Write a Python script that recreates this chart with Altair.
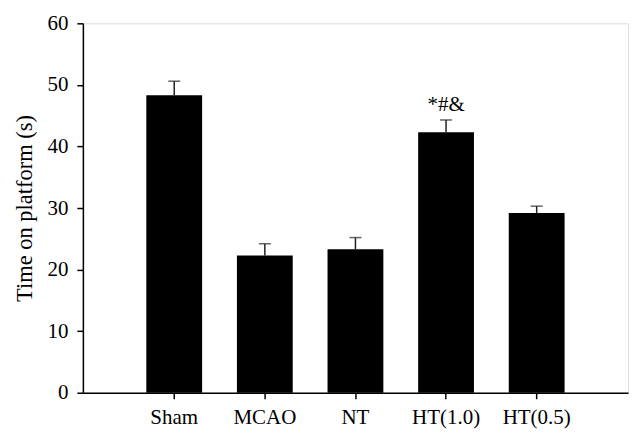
import altair as alt
import pandas as pd

groups = ["Sham", "MCAO", "NT", "HT(1.0)", "HT(0.5)"]
means = [48.3, 22.3, 23.3, 42.3, 29.2]
errors = [2.3, 1.9, 1.9, 2.0, 1.1]
annot_group = ["HT(1.0)"]
annot_text = ["*#&"]
annot_y = [46.8]

df = pd.DataFrame({"group": groups, "mean": means,
                   "upper": [m + e for m, e in zip(means, errors)]})
ann = pd.DataFrame({"group": annot_group, "text": annot_text, "y": annot_y})

FONT = "Liberation Serif"

xscale = alt.Scale(domain=groups, paddingInner=0.384, paddingOuter=0.70)
yscale = alt.Scale(domain=[0, 60], nice=False)

x = alt.X("group:N", scale=xscale, sort=groups,
          axis=alt.Axis(title=None, labelAngle=0, labelFont=FONT, labelFontSize=21,
                        labelColor="black", tickColor="black", domainColor="black",
                        domainWidth=1.5, tickWidth=1.5, tickSize=6, labelPadding=8))

bars = alt.Chart(df).mark_bar(color="black").encode(
    x=x,
    y=alt.Y("mean:Q", scale=yscale,
            axis=alt.Axis(title="Time on platform (s)", values=[0, 10, 20, 30, 40, 50, 60],
                          grid=False, labelFont=FONT, labelFontSize=21, labelColor="black",
                          titleFont=FONT, titleFontSize=22.5, titleFontWeight="normal",
                          titleColor="black", tickColor="black", domainColor="black",
                          domainWidth=1.5, tickWidth=1.5, tickSize=6, labelPadding=9,
                          titlePadding=10)),
)

err = alt.Chart(df).mark_rule(color="#222222", strokeWidth=1.5).encode(
    x=alt.X("group:N", scale=xscale, sort=groups),
    y=alt.Y("mean:Q", scale=yscale),
    y2="upper:Q",
)

caps = alt.Chart(df).mark_tick(color="#222222", thickness=1.5, size=12, orient="horizontal").encode(
    x=alt.X("group:N", scale=xscale, sort=groups),
    y=alt.Y("upper:Q", scale=yscale),
)

text = alt.Chart(ann).mark_text(font=FONT, fontSize=21, color="black", baseline="middle").encode(
    x=alt.X("group:N", scale=xscale, sort=groups),
    y=alt.Y("y:Q", scale=yscale),
    text="text:N",
)

chart = alt.layer(bars, err, caps, text).properties(
    width=546, height=370,
    autosize=alt.AutoSizeParams(type="none"),
    padding={"left": 75, "top": 15, "right": 6, "bottom": 40},
).configure_view(stroke=None).configure(background="white")

chart.save("out.html", embed_options={"renderer": "svg", "actions": False})
